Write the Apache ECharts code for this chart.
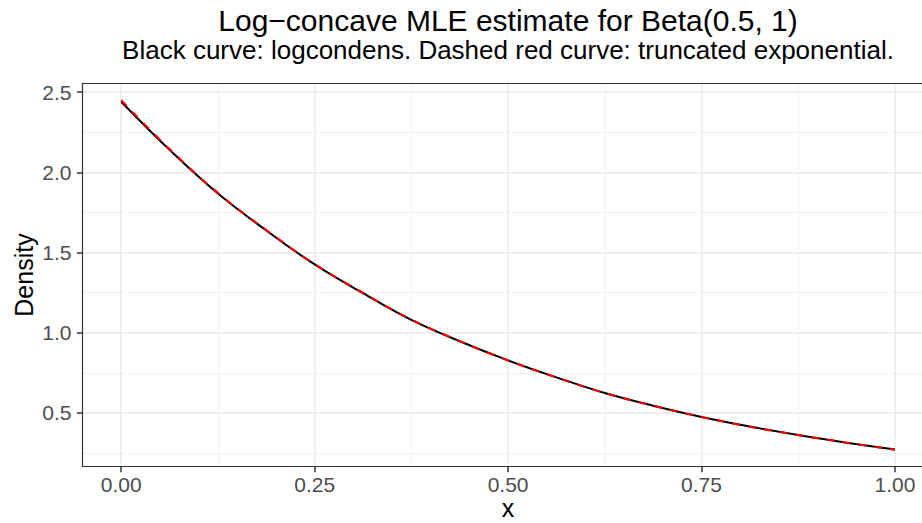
<!DOCTYPE html>
<html>
<head>
<meta charset="utf-8">
<script src="https://cdn.jsdelivr.net/npm/echarts@6/dist/echarts.min.js"></script>
<style>
  html, body { margin: 0; padding: 0; background: #fff; }
  #chart { width: 922px; height: 523px; }
</style>
</head>
<body>
<div id="chart"></div>
<script>
// Grid of x positions on [0, 1]
const xs = [0, 0.0625, 0.125, 0.1875, 0.25, 0.3125, 0.375, 0.4375, 0.5,
            0.5625, 0.625, 0.6875, 0.75, 0.8125, 0.875, 0.9375, 1];
// logcondens density estimate
const logcondens = [2.44, 2.14, 1.868, 1.638, 1.426, 1.247, 1.08, 0.947, 0.828,
                    0.722, 0.624, 0.545, 0.475, 0.415, 0.362, 0.315, 0.272];
// truncated exponential fit
const truncExp = [2.45, 2.145, 1.872, 1.64, 1.428, 1.248, 1.082, 0.948, 0.827,
                  0.721, 0.624, 0.545, 0.475, 0.414, 0.362, 0.315, 0.271];

const xMajor = [0, 0.25, 0.5, 0.75, 1];
const xMinor = [0.125, 0.375, 0.625, 0.875];
const yMajor = [0.5, 1.0, 1.5, 2.0, 2.5];
const yMinor = [0.25, 0.75, 1.25, 1.75, 2.25];

const titleText = 'Log\u2212concave MLE estimate for Beta(0.5, 1)';
const subtitleText = 'Black curve: logcondens. Dashed red curve: truncated exponential.';

const FONT = '"Liberation Sans", Arial, Helvetica, sans-serif';
// The panel runs past the right edge of the canvas, so the x range stops at the edge
const X_MIN = -0.05, X_MAX = 1.0349, Y_MIN = 0.165, Y_MAX = 2.555;
const GRID = { left: 82.5, top: 83.3, right: 0, bottom: 56.3 };
const panelCenterX = 508;
const BORDER = { color: '#333333', width: 1.2 };
const TICK = { color: '#333333', width: 1.5 };

const chart = echarts.init(document.getElementById('chart'), null, { renderer: 'svg' });

const pairs = (a, b) => a.map((v, i) => [v, b[i]]);

chart.setOption({
  animation: false,
  backgroundColor: '#ffffff',
  grid: { left: GRID.left, top: GRID.top, right: GRID.right, bottom: GRID.bottom, show: false },
  xAxis: [
    {
      type: 'value', min: X_MIN, max: X_MAX, position: 'bottom',
      axisLine: { show: true, onZero: false, lineStyle: BORDER },
      axisTick: { show: true, customValues: xMajor, length: 5.5, lineStyle: TICK },
      axisLabel: {
        show: true, customValues: xMajor, margin: 7,
        formatter: v => v.toFixed(2),
        color: '#4D4D4D', fontSize: 21, fontFamily: FONT
      },
      splitLine: { show: true, lineStyle: { color: '#EBEBEB', width: 1.5 } }
    },
    {
      type: 'value', min: X_MIN, max: X_MAX, position: 'top',
      axisLine: { show: true, onZero: false, lineStyle: BORDER },
      axisTick: { show: false, customValues: xMinor },
      axisLabel: { show: false },
      splitLine: { show: true, lineStyle: { color: '#EFEFEF', width: 0.9 } }
    }
  ],
  yAxis: [
    {
      type: 'value', min: Y_MIN, max: Y_MAX, position: 'left',
      axisLine: { show: true, onZero: false, lineStyle: BORDER },
      axisTick: { show: true, customValues: yMajor, length: 5.5, lineStyle: TICK },
      axisLabel: {
        show: true, customValues: yMajor, margin: 11,
        formatter: v => v.toFixed(1),
        color: '#4D4D4D', fontSize: 21, fontFamily: FONT
      },
      splitLine: { show: true, lineStyle: { color: '#EBEBEB', width: 1.5 } }
    },
    {
      type: 'value', min: Y_MIN, max: Y_MAX, position: 'left',
      axisLine: { show: false, onZero: false },
      axisTick: { show: false, customValues: yMinor },
      axisLabel: { show: false },
      splitLine: { show: true, lineStyle: { color: '#EFEFEF', width: 0.9 } }
    }
  ],
  series: [
    {
      name: 'logcondens', type: 'line', xAxisIndex: 0, yAxisIndex: 0,
      data: pairs(xs, logcondens), smooth: 0.4, showSymbol: false, z: 4,
      lineStyle: { color: '#000000', width: 2 }
    },
    {
      name: 'truncated exponential', type: 'line', xAxisIndex: 0, yAxisIndex: 0,
      data: pairs(xs, truncExp), smooth: 0.4, showSymbol: false, z: 5,
      lineStyle: { color: '#FF0000', width: 2, type: [8, 8] }
    }
  ],
  graphic: [
    {
      type: 'text', x: panelCenterX, y: 5,
      style: { text: titleText, font: '30px ' + FONT, fill: '#000000', align: 'center', verticalAlign: 'top' }
    },
    {
      type: 'text', x: panelCenterX, y: 37,
      style: { text: subtitleText, font: '26px ' + FONT, fill: '#000000', align: 'center', verticalAlign: 'top' }
    },
    {
      type: 'text', x: panelCenterX, y: 508,
      style: { text: 'x', font: '25px ' + FONT, fill: '#000000', align: 'center', verticalAlign: 'middle' }
    },
    {
      type: 'text', x: 24, y: 275, rotation: Math.PI / 2,
      style: { text: 'Density', font: '25px ' + FONT, fill: '#000000', align: 'center', verticalAlign: 'middle' }
    }
  ]
});
</script>
</body>
</html>
